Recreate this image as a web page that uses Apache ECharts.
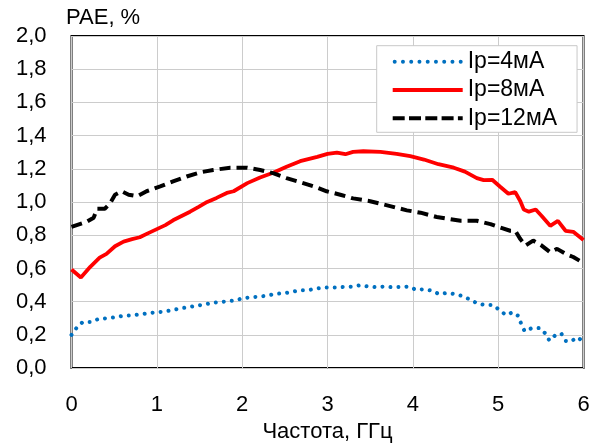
<!DOCTYPE html>
<html>
<head>
<meta charset="utf-8">
<script src="https://cdn.jsdelivr.net/npm/echarts@6/dist/echarts.min.js"></script>
<style>html,body{margin:0;padding:0;background:#fff}#c{width:593px;height:448px}</style>
</head>
<body>
<div id="c"></div>
<script>
const seriesNames = ['Ip=4мА', 'Ip=8мА', 'Ip=12мА'];
const xTicks = [0, 1, 2, 3, 4, 5, 6];
const yTicks = [0, 0.2, 0.4, 0.6, 0.8, 1.0, 1.2, 1.4, 1.6, 1.8, 2.0];

const freq4 = [0.0,0.06,0.13,0.23,0.32,0.41,0.50,0.60,0.69,0.79,0.88,0.98,1.08,1.17,1.26,1.36,1.45,1.54,1.64,1.73,1.83,1.92,2.01,2.11,2.20,2.30,2.39,2.49,2.58,2.68,2.77,2.87,2.96,3.09,3.19,3.29,3.38,3.48,3.57,3.66,3.76,3.85,3.95,4.04,4.13,4.22,4.31,4.40,4.50,4.59,4.68,4.77,4.85,4.94,5.02,5.09,5.17,5.24,5.27,5.31,5.39,5.49,5.55,5.60,5.67,5.74,5.79,5.85,5.93,6.0];
const pae4 = [0.20,0.243,0.277,0.277,0.297,0.30,0.305,0.315,0.317,0.323,0.329,0.336,0.34,0.348,0.358,0.366,0.374,0.382,0.392,0.398,0.402,0.408,0.421,0.427,0.43,0.437,0.447,0.451,0.459,0.469,0.469,0.479,0.485,0.485,0.489,0.491,0.499,0.491,0.487,0.491,0.487,0.489,0.491,0.471,0.475,0.467,0.445,0.453,0.445,0.433,0.41,0.386,0.38,0.38,0.348,0.32,0.336,0.313,0.265,0.222,0.24,0.241,0.21,0.166,0.198,0.208,0.164,0.16,0.186,0.158];

const freq8 = [0,0.11,0.22,0.33,0.41,0.51,0.61,0.71,0.80,0.90,1.0,1.10,1.19,1.29,1.39,1.49,1.59,1.70,1.82,1.90,2.06,2.21,2.37,2.52,2.68,2.88,3.0,3.11,3.21,3.30,3.42,3.62,3.81,3.97,4.13,4.30,4.48,4.61,4.75,4.83,4.93,5.02,5.12,5.20,5.26,5.30,5.36,5.44,5.51,5.61,5.70,5.79,5.88,6.0];
const pae8 = [0.594,0.546,0.61,0.665,0.688,0.734,0.762,0.777,0.788,0.813,0.837,0.861,0.89,0.916,0.942,0.971,1.001,1.025,1.055,1.065,1.114,1.148,1.178,1.213,1.246,1.272,1.29,1.298,1.288,1.302,1.306,1.302,1.29,1.276,1.256,1.228,1.207,1.183,1.144,1.132,1.134,1.094,1.05,1.06,1.005,0.955,0.942,0.955,0.916,0.857,0.887,0.827,0.821,0.771];

const freq12 = [0,0.18,0.26,0.30,0.39,0.45,0.51,0.59,0.67,0.77,0.88,1.04,1.19,1.35,1.51,1.66,1.86,2.06,2.21,2.37,2.52,2.68,2.84,2.99,3.15,3.30,3.50,3.70,3.93,4.09,4.28,4.56,4.75,4.91,5.02,5.14,5.20,5.26,5.32,5.41,5.51,5.61,5.69,5.79,5.88,6.0];
const pae12 = [0.851,0.882,0.906,0.96,0.96,0.99,1.044,1.065,1.044,1.035,1.065,1.094,1.124,1.154,1.179,1.193,1.207,1.207,1.193,1.173,1.144,1.12,1.094,1.065,1.044,1.022,1.005,0.98,0.95,0.936,0.91,0.887,0.887,0.867,0.847,0.827,0.827,0.777,0.738,0.768,0.738,0.698,0.718,0.688,0.669,0.633];

const zip = (xs, ys) => xs.map((x, i) => [x, ys[i]]);
const FONT = 'Liberation Sans';

// legend sample icons (70 x 4 px paths)
function dotsPath() {
  let p = '';
  for (let i = 0; i < 9; i++) {
    const cx = 2 + i * 8.25;
    p += 'M' + (cx - 2) + ',2 A2,2 0 1,0 ' + (cx + 2) + ',2 A2,2 0 1,0 ' + (cx - 2) + ',2 Z ';
  }
  return 'path://' + p;
}
function dashPath() {
  const segs = [[0, 12], [16.3, 28.3], [32.6, 44.6], [48.9, 60.9], [65.2, 70]];
  return 'path://' + segs.map(s => 'M' + s[0] + ',0 L' + s[1] + ',0 L' + s[1] + ',4 L' + s[0] + ',4 Z').join(' ');
}
const solidPath = 'path://M0,0 L70,0 L70,4 L0,4 Z';

const chart = echarts.init(document.getElementById('c'), null, {renderer: 'canvas'});
chart.setOption({
  animation: false,
  backgroundColor: '#fff',
  title: {
    text: 'PAE, %', left: 66, top: 7, padding: 0,
    textStyle: {fontFamily: FONT, fontSize: 22, fontWeight: 'normal', color: '#000'}
  },
  legend: {
    orient: 'vertical', left: 376.7, top: 45.7,
    padding: [4.5, 20, 2.5, 16],
    itemGap: 5.3, itemWidth: 70, itemHeight: 4,
    backgroundColor: '#fff', borderColor: '#c8c8c8', borderWidth: 1,
    textStyle: {fontFamily: FONT, fontSize: 23, color: '#000'},
    data: [
      {name: seriesNames[0], icon: dotsPath()},
      {name: seriesNames[1], icon: solidPath},
      {name: seriesNames[2], icon: dashPath()}
    ]
  },
  grid: {
    left: 71.5, right: 9.5, top: 36, bottom: 75,
    show: true, borderColor: '#000', borderWidth: 2, containLabel: false
  },
  xAxis: {
    type: 'value', min: xTicks[0], max: xTicks[xTicks.length - 1], interval: 1,
    name: 'Частота, ГГц', nameLocation: 'middle', nameGap: 51,
    nameTextStyle: {fontFamily: FONT, fontSize: 22, color: '#000'},
    axisLine: {show: false}, axisTick: {show: false},
    axisLabel: {fontFamily: FONT, fontSize: 22, color: '#000', margin: 26},
    splitLine: {show: true, lineStyle: {color: '#cccccc', width: 1}}
  },
  yAxis: {
    type: 'value', min: yTicks[0], max: yTicks[yTicks.length - 1], interval: 0.2,
    axisLine: {show: false}, axisTick: {show: false},
    axisLabel: {fontFamily: FONT, fontSize: 22, color: '#000', margin: 25,
      formatter: v => v.toFixed(1).replace('.', ',')},
    splitLine: {show: true, lineStyle: {color: '#cccccc', width: 1}}
  },
  series: [
    {name: seriesNames[0], type: 'line', symbol: 'none', data: zip(freq4, pae4),
     lineStyle: {color: '#0070C0', width: 4, type: [0.01, 8], cap: 'round'},
     itemStyle: {color: '#0070C0'}, z: 3},
    {name: seriesNames[1], type: 'line', symbol: 'none', data: zip(freq8, pae8),
     lineStyle: {color: '#FF0000', width: 3.8, type: 'solid'},
     itemStyle: {color: '#FF0000'}, z: 4},
    {name: seriesNames[2], type: 'line', symbol: 'none', data: zip(freq12, pae12),
     lineStyle: {color: '#000000', width: 4, type: [11, 6]},
     itemStyle: {color: '#000000'}, z: 5}
  ]
});
</script>
</body>
</html>
